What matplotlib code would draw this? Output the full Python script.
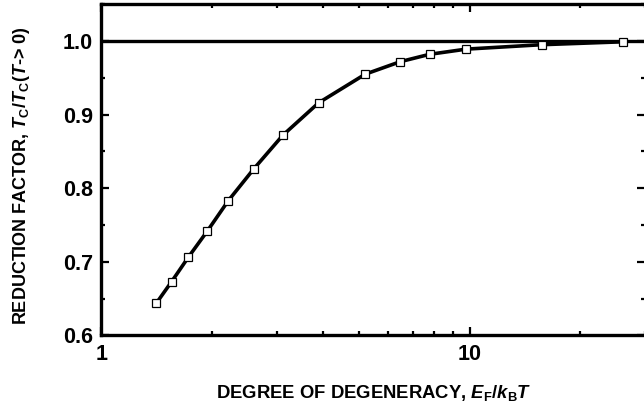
import numpy as np
import matplotlib
matplotlib.use('Agg')
import matplotlib.pyplot as plt
from matplotlib.ticker import LogLocator, NullFormatter, FixedLocator, MultipleLocator

# data
degeneracy = [1.41, 1.55, 1.72, 1.94, 2.21, 2.59, 3.11, 3.89, 5.21, 6.49, 7.80, 9.80, 15.7, 26.2]
reduction = [0.644, 0.673, 0.706, 0.742, 0.783, 0.826, 0.872, 0.916, 0.955, 0.972, 0.982, 0.989, 0.995, 0.999]

x_major = [1, 10]
x_major_labels = ['1', '10']
y_major = [0.6, 0.7, 0.8, 0.9, 1.0]

plt.rcParams['font.family'] = 'Liberation Sans'
plt.rcParams['font.weight'] = 'bold'
plt.rcParams['mathtext.fontset'] = 'custom'
plt.rcParams['mathtext.rm'] = 'Liberation Sans:bold'
plt.rcParams['mathtext.it'] = 'Liberation Sans:italic:bold'
plt.rcParams['mathtext.bf'] = 'Liberation Sans:bold'

fig = plt.figure(figsize=(6.44, 4.13), dpi=100)
ax = fig.add_axes([0.1576, 0.1877, 0.8441, 0.8021])

ax.axhline(1.0, color='black', linewidth=2.4, zorder=2)
ax.plot(degeneracy, reduction, color='black', linewidth=2.6,
        marker='s', markersize=6.2, markerfacecolor='white',
        markeredgecolor='black', markeredgewidth=0.9, zorder=3)

ax.set_xscale('log')
ax.set_xlim(1, 30)
ax.set_ylim(0.6, 1.05)

ax.xaxis.set_major_locator(FixedLocator(x_major))
ax.set_xticklabels(x_major_labels)
ax.xaxis.set_minor_locator(LogLocator(base=10, subs=np.arange(2, 10)))
ax.xaxis.set_minor_formatter(NullFormatter())
ax.set_yticks(y_major)
ax.set_yticklabels([f'{v:.1f}' for v in y_major])
ax.yaxis.set_minor_locator(MultipleLocator(0.05))

ax.tick_params(which='both', direction='in', top=True, right=True,
               width=1.6, labelsize=15.5, pad=6)
ax.tick_params(which='major', length=6)
ax.tick_params(which='minor', length=3)
for s in ax.spines.values():
    s.set_linewidth(2.4)

ax.set_xlabel(r'DEGREE OF DEGENERACY, $E_{\mathrm{F}}/k_{\mathrm{B}}T$',
              fontsize=13.3, fontweight='bold', labelpad=13)
ax.set_ylabel(r'REDUCTION FACTOR, $T_{\mathrm{C}}/T_{\mathrm{C}}(T$-> 0)',
              fontsize=13, fontweight='bold')
ax.yaxis.set_label_coords(-0.128, 0.481)

fig.savefig('out.png', dpi=100)
